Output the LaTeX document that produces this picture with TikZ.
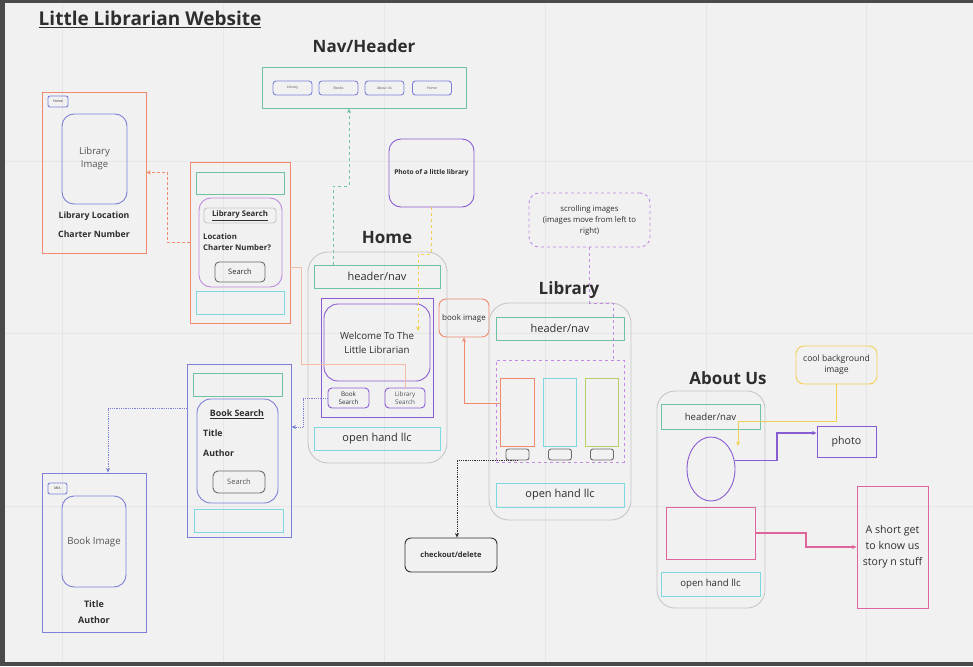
\documentclass[tikz,border=0pt]{standalone}
\usepackage{fontspec}
\setmainfont{Open Sans}
\usetikzlibrary{arrows.meta,shapes.geometric,calc}

\definecolor{bgpaper}{HTML}{F1F1F1}
\definecolor{gridline}{HTML}{E6E6E6}
\definecolor{frame}{HTML}{4A4A4A}
\definecolor{ink}{HTML}{2E2E2E}
\definecolor{softink}{HTML}{555555}
\definecolor{salmon}{HTML}{EF8A6E}
\definecolor{palesalmon}{HTML}{F3BBA8}
\definecolor{mint}{HTML}{6FC2A0}
\definecolor{aqua}{HTML}{7ED8E0}
\definecolor{navblue}{HTML}{7C80D8}
\definecolor{violet}{HTML}{8A5CD3}
\definecolor{lilac}{HTML}{C08AE2}
\definecolor{sun}{HTML}{F3CF55}
\definecolor{rose}{HTML}{E0649C}
\definecolor{shell}{HTML}{C6C6C6}
\definecolor{lime}{HTML}{B5D06A}
\definecolor{button}{HTML}{6A6A6A}

\newcommand{\fsz}[2]{\fontsize{#1}{#2}\selectfont}

\begin{document}
\begin{tikzpicture}[x=1pt, y=-1pt,
    box/.style={draw, line width=0.9pt, inner sep=0pt, text=ink, align=center},
    rbox/.style={box, rounded corners=#1},
    rbox/.default=10pt,
    heading/.style={font=\fsz{17}{20}\bfseries, text=ink},
    label/.style={inner sep=0pt, text=ink, align=center},
    link/.style={line width=0.8pt, -{Stealth[length=4.5pt,width=4pt]}},
  ]
  \useasboundingbox (0,0) rectangle (973,666);

  % Paper and grid
  \fill[bgpaper] (0,0) rectangle (973,666);
  \foreach \gx in {62,223,384,545,706,866}
    \draw[gridline, line width=0.6pt] (\gx,3) -- (\gx,662);
  \foreach \gy in {161,333,506}
    \draw[gridline, line width=0.6pt] (5,\gy) -- (973,\gy);
  \fill[frame] (0,0) rectangle (973,3);
  \fill[frame] (0,0) rectangle (5,666);
  \fill[frame] (0,662) rectangle (973,666);

  % Title
  \node[font=\fsz{19}{22}\bfseries, text=ink] (pagetitle) at (150,19) {\underline{Little Librarian Website}};

  % Nav/Header
  \node[heading] (navtitle) at (364,46) {Nav/Header};
  \node[box, draw=mint, minimum width=204, minimum height=41] (navbox) at (364,87.5) {};
  \foreach \bx/\bl [count=\i] in {292.5/Library, 338.5/Books, 384.5/About Us, 432/Home}
    \node[rbox=3pt, draw=navblue, minimum width=39, minimum height=14, font=\fsz{3.5}{4}, text=softink] (navbtn\i) at (\bx,88) {\bl};

  % Library card
  \node[box, draw=salmon, minimum width=104, minimum height=161] (libcard) at (94,172.5) {};
  \node[rbox=2pt, draw=navblue, minimum width=20, minimum height=11, font=\fsz{3.5}{4}] (libtag) at (58,101.5) {Home};
  \node[rbox=12pt, draw=navblue, minimum width=65, minimum height=90, font=\fsz{9.5}{13}, text=softink] (libimg) at (94.5,159) {Library\\Image};
  \node[label, font=\fsz{8.7}{10}\bfseries] (libloc) at (94,216) {Library Location};
  \node[label, font=\fsz{8.7}{10}\bfseries] (libchart) at (94,234) {Charter Number};

  % Library search panel
  \node[box, draw=salmon, minimum width=100, minimum height=161] (libsearch) at (240,242.5) {};
  \node[box, draw=mint, minimum width=88, minimum height=22] (lshead) at (240,183) {};
  \node[rbox=12pt, draw=lilac, minimum width=83, minimum height=89] (lsform) at (240.5,242.5) {};
  \node[rbox=3pt, draw=shell, minimum width=72, minimum height=15, font=\fsz{7.8}{9}\bfseries] (lstitle) at (240,215.5) {\underline{Library Search}};
  \node[label, anchor=west, font=\fsz{7.8}{9}\bfseries] (lsloc) at (203,237) {Location};
  \node[label, anchor=west, font=\fsz{7.8}{9}\bfseries] (lschart) at (203,248) {Charter Number?};
  \node[rbox=4pt, draw=button, minimum width=50, minimum height=20, font=\fsz{7.5}{9}] (lsbtn) at (240,272) {Search};
  \node[box, draw=aqua, minimum width=88, minimum height=23] (lsfoot) at (240,302.5) {};

  % Book search panel
  \node[box, draw=navblue, minimum width=104, minimum height=173] (bspanel) at (239,450.5) {};
  \node[box, draw=mint, minimum width=89, minimum height=23] (bshead) at (237.5,384.5) {};
  \node[rbox=14pt, draw=navblue, minimum width=81, minimum height=104] (bsform) at (237.5,451) {};
  \node[label, font=\fsz{8.8}{10}\bfseries] (bstitle) at (237,414) {\underline{Book Search}};
  \node[label, anchor=west, font=\fsz{8.8}{10}\bfseries] (bstitlef) at (203,433) {Title};
  \node[label, anchor=west, font=\fsz{8.8}{10}\bfseries] (bsauthor) at (203,453) {Author};
  \node[rbox=5pt, draw=button, minimum width=52, minimum height=22, font=\fsz{7.5}{9}, text=softink] (bsbtn) at (239,482) {Search};
  \node[box, draw=aqua, minimum width=89, minimum height=23] (bsfoot) at (238.5,520.5) {};

  % Book card
  \node[box, draw=navblue, minimum width=104, minimum height=159] (bookcard) at (94,552.5) {};
  \node[rbox=2pt, draw=navblue, minimum width=19, minimum height=11, font=\fsz{3.5}{4}] (booktag) at (57.5,488.5) {MIA};
  \node[rbox=12pt, draw=navblue, minimum width=64, minimum height=91, font=\fsz{9.7}{12}, text=softink] (bookpic) at (94,541.5) {Book Image};
  \node[label, font=\fsz{9}{10}\bfseries] (booktitle) at (94,604) {Title};
  \node[label, font=\fsz{9}{10}\bfseries] (bookauthor) at (94,620) {Author};

  % Home
  \node[heading] (hometitle) at (387,238) {Home};
  \node[rbox=20pt, draw=shell, minimum width=139, minimum height=211] (home) at (377.5,357.5) {};
  \node[box, draw=mint, minimum width=126, minimum height=23, font=\fsz{11}{13}] (homehead) at (377,276.5) {header/nav};
  \node[box, draw=violet, minimum width=112, minimum height=119] (homemain) at (377,357.5) {};
  \node[rbox=14pt, draw=violet, minimum width=106, minimum height=77, font=\fsz{9.7}{14}] (welcome) at (377,342.5) {Welcome To The\\Little Librarian};
  \node[rbox=4pt, draw=violet, minimum width=41, minimum height=20, font=\fsz{6.3}{7.5}] (homebs) at (348.5,398) {Book\\Search};
  \node[rbox=4pt, draw=violet, minimum width=40, minimum height=20, font=\fsz{6.3}{7.5}, text=softink] (homels) at (405,398) {Library\\Search};
  \node[box, draw=aqua, minimum width=126, minimum height=23, font=\fsz{11}{13}] (homefoot) at (377,438.5) {open hand llc};

  % Notes round Home
  \node[rbox=12pt, draw=violet, minimum width=85, minimum height=68, font=\fsz{6.6}{8}\bfseries] (photolib) at (431.5,173) {Photo of a little library};
  \node[rbox=10pt, draw=lilac, dashed, minimum width=121, minimum height=54, font=\fsz{7.8}{11}] (scroll) at (589.5,220) {scrolling images\\(images move from left to\\right)};
  \node[rbox=7pt, draw=salmon, minimum width=50, minimum height=38, font=\fsz{8}{10}] (bookimg) at (464,318) {book image};
  \node[rbox=6pt, draw=ink, minimum width=92, minimum height=34, font=\fsz{7.5}{9}\bfseries] (checkout) at (451,555) {checkout/delete};

  % Library
  \node[heading] (librarytitle) at (569,290) {Library};
  \node[rbox=20pt, draw=shell, minimum width=142, minimum height=217] (library) at (560,411.5) {};
  \node[box, draw=mint, minimum width=128, minimum height=23, font=\fsz{11}{13}] (libhead) at (560,328.5) {header/nav};
  \node[box, draw=lilac, dashed, minimum width=128, minimum height=102] (libscroll) at (560,411) {};
  \foreach \ix/\ic [count=\i] in {517.5/salmon, 560/aqua, 602/lime} {
    \node[box, draw=\ic, minimum width=33.5, minimum height=68] (libpic\i) at (\ix,412) {};
    \node[rbox=2.5pt, draw=button, minimum width=23, minimum height=11] (libbtn\i) at (\ix,454.5) {};
  }
  \node[box, draw=aqua, minimum width=128, minimum height=24, font=\fsz{11}{13}] (libfoot) at (560,495) {open hand llc};

  % About Us
  \node[heading] (abouttitle) at (728,378) {About Us};
  \node[rbox=18pt, draw=shell, minimum width=108, minimum height=217] (about) at (711,499.5) {};
  \node[box, draw=mint, minimum width=99, minimum height=25, font=\fsz{9.6}{11}] (abouthead) at (710.5,416.5) {header/nav};
  \node[ellipse, draw=violet, line width=0.9pt, minimum width=48, minimum height=64, inner sep=0pt] (aboutpic) at (711,469) {};
  \node[box, draw=rose, minimum width=89, minimum height=52] (aboutstory) at (710.5,533) {};
  \node[box, draw=aqua, minimum width=99, minimum height=24, font=\fsz{9.6}{11}] (aboutfoot) at (710.5,584) {open hand llc};
  \node[rbox=8pt, draw=sun, minimum width=81, minimum height=38, font=\fsz{8.6}{11}] (coolbg) at (836.5,365) {cool background\\image};
  \node[box, draw=violet, minimum width=59, minimum height=31, font=\fsz{10.6}{12}] (photo) at (846.5,441.5) {photo};
  \node[box, draw=rose, minimum width=71, minimum height=122, font=\fsz{10.6}{16}] (story) at (892.5,547) {A short get\\to know us\\story n stuff};

  % Free ends
  \coordinate (welcomespot) at (418,331);
  \coordinate (aboutspot) at (738,446);

  % Connectors
  \draw[link, mint, dashed] (333,0 |- homehead.north) |- (349,186) -- (349,0 |- navbox.south);
  \draw[link, sun, dashed] (photolib.south) -- (431.5,254) -| (welcomespot);
  \draw[link, salmon, densely dashed, line width=0.6pt] (libsearch.west) -- (167,242.5) |- (libcard.east);
  \draw[palesalmon, line width=0.6pt] ($(libsearch.east)+(0,25)$) -| (301,364) -| (homels.north);
  \draw[link, navblue, densely dotted] (homebs.west) -- (303,398) |- ([yshift=23.5pt]bspanel.east);
  \draw[link, navblue, densely dotted] ([yshift=42.5pt]bspanel.west) -| ([xshift=14pt]bookcard.north);
  \draw[link, salmon] ([yshift=9pt]libpic1.west) -| (bookimg.south);
  \draw[lilac, dashed, line width=0.9pt] (scroll.south) -- (589.5,303) -| ([xshift=53pt]libscroll.north);
  \draw[link, ink, densely dotted] (libbtn1.south) -| ([xshift=6pt]checkout.north);
  \draw[link, sun, line width=1pt] (coolbg.south) -- (836.5,421) -| (aboutspot);
  \draw[link, violet, line width=1.1pt] (aboutpic.20) -- (aboutpic.20 -| 777,0) |- ([yshift=8.5pt]photo.west);
  \draw[link, rose, line width=1.4pt] (aboutstory.east) -- (806,533) |- (story.west);
\end{tikzpicture}
\end{document}
